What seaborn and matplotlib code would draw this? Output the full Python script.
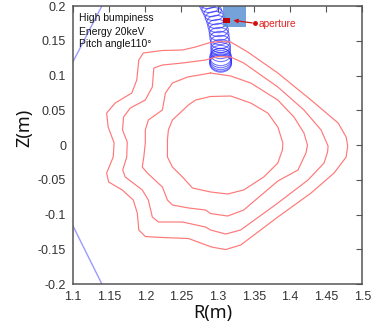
import numpy as np
import pandas as pd
import matplotlib
matplotlib.use("Agg")
import matplotlib.pyplot as plt
import matplotlib.patches as mpatches
import seaborn as sns

# flux surfaces (R, Z), outer -> inner
r_c1 = [1.3, 1.3181, 1.3417, 1.3833, 1.4292, 1.4667, 1.4778, 1.4799, 1.4778, 1.4611,
        1.4292, 1.3833, 1.3319, 1.3111, 1.2917, 1.2597, 1.2236, 1.2, 1.191, 1.1889,
        1.1833, 1.1681, 1.1493, 1.1465, 1.1556, 1.1569, 1.1486, 1.1465, 1.1583, 1.1813,
        1.1882, 1.191, 1.1972, 1.2236, 1.2514, 1.2694, 1.2875]
z_c1 = [0.1489, 0.1482, 0.1338, 0.1036, 0.0647, 0.0317, 0.0115, -0.0014, -0.0173, -0.0403,
        -0.0691, -0.1036, -0.1439, -0.1504, -0.1468, -0.1345, -0.1331, -0.1317, -0.1223, -0.0978,
        -0.0791, -0.0647, -0.0532, -0.0403, -0.0173, 0.0029, 0.0259, 0.046, 0.0604, 0.0748,
        0.0935, 0.1223, 0.1324, 0.136, 0.1367, 0.141, 0.1468]

r_c2 = [1.3, 1.3181, 1.3361, 1.3833, 1.4194, 1.4431, 1.4528, 1.4521, 1.4472, 1.425,
        1.3833, 1.3319, 1.3111, 1.2903, 1.2833, 1.2514, 1.2181, 1.2097, 1.2042, 1.1958,
        1.1722, 1.1688, 1.1743, 1.175, 1.1685, 1.1699, 1.1792, 1.2, 1.2097, 1.2118,
        1.2236, 1.2514, 1.2833]
z_c2 = [0.1273, 0.1266, 0.118, 0.0835, 0.0504, 0.0216, -0.0014, -0.0101, -0.0259, -0.0504,
        -0.0835, -0.1223, -0.1281, -0.1223, -0.118, -0.1108, -0.1108, -0.1036, -0.0791, -0.0647,
        -0.046, -0.036, -0.0173, 0.0043, 0.0216, 0.0403, 0.0532, 0.0647, 0.0835, 0.1108,
        0.1151, 0.118, 0.1223]

r_c3 = [1.2903, 1.3181, 1.3458, 1.3833, 1.4056, 1.4194, 1.4243, 1.4222, 1.4111, 1.3833,
        1.3361, 1.3139, 1.2903, 1.2833, 1.2597, 1.2375, 1.2306, 1.2236, 1.2028, 1.1958,
        1.1979, 1.2, 1.2, 1.2042, 1.2236, 1.2278, 1.2375, 1.2583]
z_c3 = [0.1036, 0.0993, 0.0892, 0.0647, 0.0403, 0.0173, 0.0, -0.0115, -0.036, -0.0518,
        -0.0935, -0.1022, -0.0986, -0.0935, -0.0906, -0.0863, -0.0791, -0.0604, -0.0403, -0.0317,
        -0.0173, 0.0029, 0.0216, 0.036, 0.0504, 0.0748, 0.0892, 0.0978]

r_c4 = [1.2903, 1.3181, 1.3458, 1.3694, 1.3833, 1.3903, 1.3896, 1.3833, 1.3639, 1.3361,
        1.3139, 1.2903, 1.2653, 1.2514, 1.2375, 1.2306, 1.2306, 1.2319, 1.2375, 1.2597, 1.2694]
z_c4 = [0.0698, 0.0705, 0.0604, 0.046, 0.0259, 0.0029, -0.0072, -0.0259, -0.046, -0.0647,
        -0.0705, -0.0676, -0.0619, -0.046, -0.0317, -0.0173, 0.0072, 0.0216, 0.036, 0.0576, 0.0647]

# gyro orbit circle centres
orb_r = [1.2861, 1.2889, 1.2917, 1.2944, 1.2965, 1.2986, 1.3, 1.3014, 1.3021, 1.3028,
         1.3035, 1.3042, 1.3042, 1.3042, 1.3042, 1.3042, 1.3042, 1.3042, 1.3042, 1.3042]
orb_z = [0.2058, 0.2, 0.1942, 0.1885, 0.1827, 0.177, 0.1712, 0.1655, 0.1597, 0.154,
         0.1482, 0.1424, 0.1381, 0.1338, 0.1295, 0.1266, 0.1237, 0.1209, 0.1187, 0.1173]

# vessel wall lines
wall_top_r = [1.1, 1.1399]
wall_top_z = [0.1199, 0.2]
wall_bot_r = [1.1, 1.1399]
wall_bot_z = [-0.1165, -0.2]

xticks = [1.1, 1.15, 1.2, 1.25, 1.3, 1.35, 1.4, 1.45, 1.5]
yticks = [-0.2, -0.15, -0.1, -0.05, 0, 0.05, 0.1, 0.15, 0.2]
info_lines = ["High bumpiness", "Energy 20keV", "Pitch angle110°"]

sns.set_theme(style="white")
plt.rcParams['font.family'] = ['Liberation Sans', 'DejaVu Sans']

fig = plt.figure(figsize=(3.71, 3.23), dpi=100)
ax = fig.add_axes([0.1968, 0.1207, 0.7795, 0.8607])

for rr, zz in [(r_c1, z_c1), (r_c2, z_c2), (r_c3, z_c3), (r_c4, z_c4)]:
    d = pd.DataFrame({"R": rr + rr[:1], "Z": zz + zz[:1]})
    sns.lineplot(data=d, x="R", y="Z", sort=False, estimator=None, ax=ax,
                 color="#ff7878", lw=0.85, solid_joinstyle="round")

sns.lineplot(x=wall_top_r, y=wall_top_z, sort=False, estimator=None, ax=ax, color="#9a9aff", lw=1)
sns.lineplot(x=wall_bot_r, y=wall_bot_z, sort=False, estimator=None, ax=ax, color="#9a9aff", lw=1)

for i, (r, z) in enumerate(zip(orb_r, orb_z)):
    big = i >= 15
    e = mpatches.Ellipse((r, z), 0.03 if big else 0.027, 0.025 if big else 0.019,
                         fill=False, ec="#2a2aff", lw=0.8, alpha=0.65)
    ax.add_patch(e)

ax.add_patch(mpatches.Rectangle((1.3074, 0.1702), 0.0325, 0.04, color="#5d93d3", alpha=0.85, lw=0))
ax.add_patch(mpatches.Rectangle((1.3074, 0.176), 0.0093, 0.0063, color="#c00000", lw=0))
ax.annotate("", xy=(1.318, 0.1799), xytext=(1.3518, 0.1751),
            arrowprops=dict(arrowstyle="-|>", color="#d01010", lw=0.9, mutation_scale=6))
ax.plot([1.3518], [0.1751], "o", color="#d01010", ms=2.5)
ax.text(1.357, 0.1741, "aperture", color="#e02020", fontsize=7.3, va="center")

for txt, yy in zip(info_lines, [0.956, 0.908, 0.862]):
    ax.text(0.021, yy, txt, transform=ax.transAxes, fontsize=7.5, va="center", color="#111111")

ax.set_xlim(1.1, 1.5)
ax.set_ylim(-0.2, 0.2)
ax.set_xticks(xticks)
ax.set_yticks(yticks)
ax.set_xticklabels([f"{v:g}" for v in xticks])
ax.set_yticklabels([f"{v:g}" for v in yticks])
ax.tick_params(direction="in", length=4, width=0.8, color="#555555", labelsize=9,
               labelcolor="#333333", top=True, right=True, pad=5)
for s in ax.spines.values():
    s.set_color("#555555")
    s.set_linewidth(1.1)

ax.set_xlabel("R(m)", fontsize=13, family=["Noto Sans", "DejaVu Sans"], color="#111111")
ax.set_ylabel("Z(m)", fontsize=13, family=["Noto Sans", "DejaVu Sans"], color="#111111")
ax.xaxis.set_label_coords(0.483, -0.106)
ax.yaxis.set_label_coords(-0.167, 0.561)
ax.xaxis.label.set_va("center")
ax.yaxis.label.set_va("center")

fig.savefig("out.png", dpi=100)
